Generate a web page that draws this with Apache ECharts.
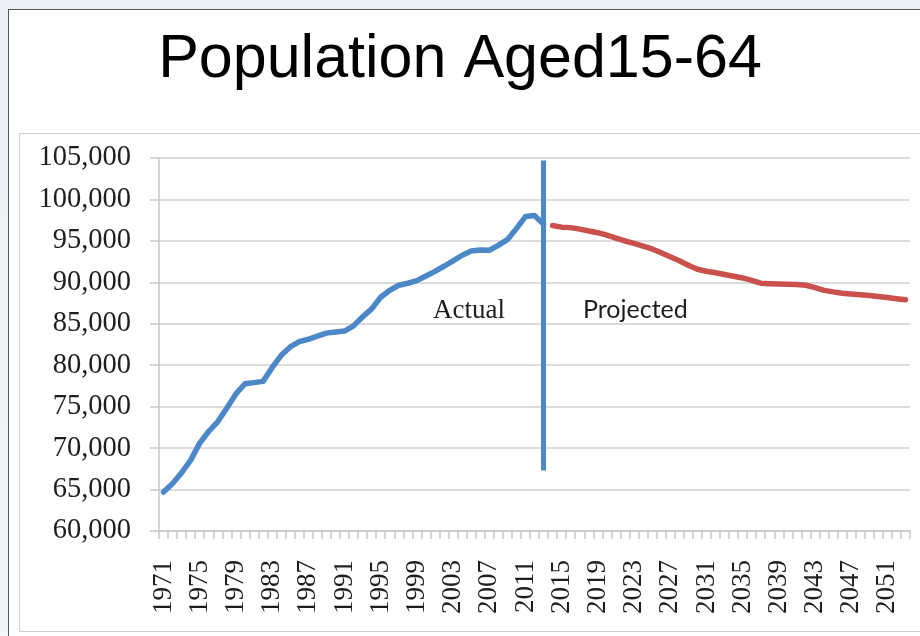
<!DOCTYPE html>
<html>
<head>
<meta charset="utf-8">
<script src="https://cdn.jsdelivr.net/npm/echarts@6/dist/echarts.min.js"></script>
<style>
  html, body { margin: 0; padding: 0; }
  body { width: 920px; height: 636px; position: relative; overflow: hidden;
         background: linear-gradient(180deg, #eaf0f6 0%, #f3f6f9 100%); }
  #frame { position: absolute; left: 8px; top: 9px; width: 930px; height: 640px;
           background: #ffffff; border: 1.5px solid #555555; box-sizing: border-box; }
  #inner { position: absolute; left: 19px; top: 133px; width: 920px; height: 499px;
           border: 1.5px solid #cfcfcf; box-sizing: border-box; background: #ffffff; }
  #chart { position: absolute; left: 0; top: 0; width: 920px; height: 636px; }
</style>
</head>
<body>
<div id="frame"></div>
<div id="inner"></div>
<div id="chart"></div>
<script>
// ---- data ----
const startYear = 1971;
const endYear = 2053;
const years = [];
for (let y = startYear; y <= endYear; y++) years.push(String(y));

// Actual 1971-2013
const actualValues = [
  64700, 65740, 67030, 68550, 70600, 72030, 73200, 74830, 76540, 77760,
  77900, 78050, 79700, 81200, 82200, 82850, 83130, 83500, 83870, 84000,
  84120, 84750, 85840, 86800, 88200, 89040, 89650, 89890, 90200, 90770,
  91320, 91940, 92600, 93270, 93770, 93900, 93870, 94460, 95150, 96480,
  97930, 98050, 97020
];
// Projected 2014-2053
const projectedValues = [
  96860, 96660, 96600, 96420, 96200, 95990, 95690, 95330, 94990, 94710,
  94380, 94030, 93570, 93090, 92610, 92060, 91580, 91340, 91160, 90950,
  90730, 90530, 90240, 89900, 89840, 89800, 89770, 89730, 89650, 89360,
  89030, 88850, 88680, 88590, 88500, 88420, 88280, 88160, 88030, 87890
];
const yTicks = [60000, 65000, 70000, 75000, 80000, 85000, 90000, 95000, 100000, 105000];
const dividerYear = '2013';
const dividerRange = [67300, 104700];
const titleText = 'Population Aged15-64';
const actualLabel = 'Actual';
const projectedLabel = 'Projected';

// ---- build ----
const actualSeries = years.map((y, i) => i < actualValues.length ? actualValues[i] : null);
const projectedSeries = years.map((y, i) => i >= actualValues.length ? projectedValues[i - actualValues.length] : null);

const chart = echarts.init(document.getElementById('chart'), null, { renderer: 'canvas' });
const serif = '"Liberation Serif", "DejaVu Serif", serif';
chart.setOption({
  backgroundColor: 'transparent',
  animation: false,
  title: {
    text: titleText,
    left: 'center',
    top: 25,
    textStyle: { fontFamily: '"Liberation Sans", Arial, sans-serif', fontSize: 61, fontWeight: 'normal', color: '#000000' }
  },
  grid: { left: 159, right: 10, top: 158, bottom: 105, containLabel: false },
  xAxis: {
    type: 'category',
    data: years,
    boundaryGap: true,
    axisLine: { show: true, lineStyle: { color: '#c8c8c8', width: 1.5 } },
    axisTick: { show: true, interval: 0, length: 8, lineStyle: { color: '#c8c8c8', width: 1.5 } },
    axisLabel: { interval: 3, rotate: 90, margin: 29, fontFamily: serif, fontSize: 27, color: '#1e1e1e' },
    splitLine: { show: false }
  },
  yAxis: {
    type: 'value',
    min: yTicks[0],
    max: yTicks[yTicks.length - 1],
    interval: 5000,
    axisLine: { show: true, lineStyle: { color: '#c8c8c8', width: 1.5 } },
    axisTick: { show: true, length: 9, lineStyle: { color: '#c8c8c8', width: 1.5 } },
    axisLabel: {
      margin: 28, fontFamily: serif, fontSize: 28.5, color: '#1e1e1e',
      formatter: v => v.toLocaleString('en-US')
    },
    splitLine: { show: true, lineStyle: { color: '#d0d0d0', width: 1.5 } }
  },
  series: [
    {
      name: 'Actual', type: 'line', data: actualSeries, showSymbol: false, connectNulls: false,
      lineStyle: { color: '#4C87C7', width: 5.5, cap: 'round', join: 'round' },
      itemStyle: { color: '#4C87C7' },
      z: 3,
      markLine: {
        silent: true, symbol: ['none', 'none'], label: { show: false },
        lineStyle: { color: '#4C87C7', width: 5, type: 'solid', cap: 'butt' },
        emphasis: { disabled: true },
        data: [[{ coord: [dividerYear, dividerRange[0]] }, { coord: [dividerYear, dividerRange[1]] }]]
      }
    },
    {
      name: 'Projected', type: 'line', data: projectedSeries, showSymbol: false, connectNulls: false,
      lineStyle: { color: '#C9504B', width: 5.5, cap: 'round', join: 'round' },
      itemStyle: { color: '#C9504B' },
      z: 2
    }
  ],
  graphic: [
    { type: 'text', left: 433, top: 297, style: { text: actualLabel, fontFamily: serif, fontSize: 27, fill: '#1e1e1e' } },
    { type: 'text', left: 583, top: 297, style: { text: projectedLabel, fontFamily: 'Lato, "Open Sans", sans-serif', fontSize: 25, fill: '#1e1e1e' } }
  ]
});
</script>
</body>
</html>
